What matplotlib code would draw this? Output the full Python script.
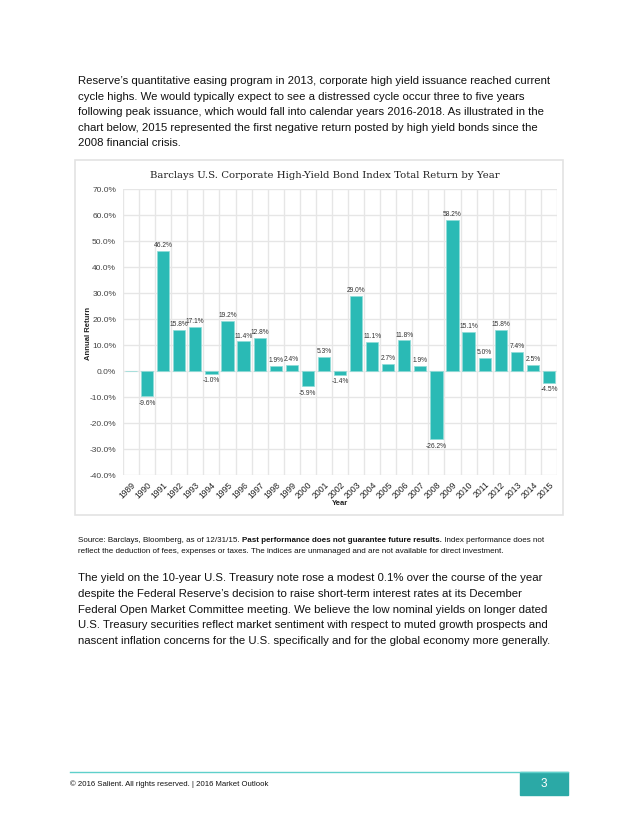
import numpy as np
import matplotlib.pyplot as plt
from matplotlib.patches import Rectangle

years = [str(y) for y in range(1989, 2016)]
returns = [np.nan, -9.6, 46.2, 15.8, 17.1, -1.0, 19.2, 11.4, 12.8, 1.9, 2.4,
           -5.9, 5.3, -1.4, 29.0, 11.1, 2.7, 11.8, 1.9, -26.2, 58.2, 15.1,
           5.0, 15.8, 7.4, 2.5, -4.5]
yticks = [-40, -30, -20, -10, 0, 10, 20, 30, 40, 50, 60, 70]

para1 = [
    "Reserve\u2019s quantitative easing program in 2013, corporate high yield issuance reached current",
    "cycle highs. We would typically expect to see a distressed cycle occur three to five years",
    "following peak issuance, which would fall into calendar years 2016-2018. As illustrated in the",
    "chart below, 2015 represented the first negative return posted by high yield bonds since the",
    "2008 financial crisis.",
]
para2 = [
    "The yield on the 10-year U.S. Treasury note rose a modest 0.1% over the course of the year",
    "despite the Federal Reserve\u2019s decision to raise short-term interest rates at its December",
    "Federal Open Market Committee meeting. We believe the low nominal yields on longer dated",
    "U.S. Treasury securities reflect market sentiment with respect to muted growth prospects and",
    "nascent inflation concerns for the U.S. specifically and for the global economy more generally.",
]
caption1 = ["Source: Barclays, Bloomberg, as of 12/31/15. ",
            "Past performance does not guarantee future results.",
            " Index performance does not"]
caption2 = "reflect the deduction of fees, expenses or taxes. The indices are unmanaged and are not available for direct investment."

plt.rcParams['font.family'] = ['Liberation Sans', 'DejaVu Sans']
W, H = 640, 828
fig = plt.figure(figsize=(6.4, 8.28), dpi=100)

def fx(x):
    return x / W

def fy(y):
    return 1 - y / H

teal = '#2abab5'
txt = '#111111'

for i, line in enumerate(para1):
    fig.text(fx(78), fy(81 + 15.6 * i), line, fontsize=8.2, color=txt, va='center')
for i, line in enumerate(para2):
    fig.text(fx(78), fy(578 + 15.8 * i), line, fontsize=8.2, color=txt, va='center')

# caption with bold middle part
renderer = fig.canvas.get_renderer()
x = fx(78)
for j, part in enumerate(caption1):
    t = fig.text(x, fy(541), part, fontsize=5.75, color=txt, va='center',
                 fontweight='bold' if j == 1 else 'normal')
    bb = t.get_window_extent(renderer)
    x += bb.width / W
fig.text(fx(78), fy(552), caption2, fontsize=5.75, color=txt, va='center')

# chart frame
fig.patches.append(Rectangle((fx(75), fy(516)), fx(563) - fx(75), fy(161) - fy(516),
                             transform=fig.transFigure, fill=False,
                             edgecolor='#e3e3e3', linewidth=1.2))

ax = fig.add_axes([fx(123), fy(476), fx(557) - fx(123), fy(190) - fy(476)])
xs = np.arange(len(years))
vals = np.array(returns, dtype=float)
ax.bar(xs, np.nan_to_num(vals), width=0.76, color=teal, edgecolor='#8fdcd8',
       linewidth=0.5, zorder=3)
for xi, v in zip(xs, vals):
    if np.isnan(v):
        continue
    if v >= 0:
        ax.annotate(f"{v:.1f}%", (xi, v), xytext=(0, 2), textcoords='offset points',
                    ha='center', va='bottom', fontsize=4.8, color='#333333')
    else:
        ax.annotate(f"{v:.1f}%", (xi, v), xytext=(0, -2), textcoords='offset points',
                    ha='center', va='top', fontsize=4.8, color='#333333')

ax.set_xlim(-0.5, len(years) - 0.5)
ax.set_ylim(-40, 70)
ax.set_yticks(yticks)
ax.set_yticklabels([f"{v:.1f}%" for v in yticks], fontsize=6, color='#444444')
ax.set_xticks(xs)
ax.set_xticklabels(years, rotation=45, ha='right', va='top', rotation_mode='anchor',
                   fontsize=6.2, color='#222222')
ax.set_xticks(np.arange(-0.5, len(years)), minor=True)
ax.tick_params(axis='both', which='both', length=0)
ax.tick_params(axis='x', pad=3)
ax.tick_params(axis='y', pad=5)
ax.grid(True, axis='y', which='major', color='#e6e6e6', linewidth=1, zorder=0)
ax.grid(True, axis='x', which='minor', color='#e6e6e6', linewidth=1, zorder=0)
for s in ax.spines.values():
    s.set_visible(False)

fig.text(fx(325), fy(176), "Barclays U.S. Corporate High-Yield Bond Index Total Return by Year",
         family='DejaVu Serif', fontsize=7.3, color='#222222', ha='center', va='center')
fig.text(fx(88), fy(333), "Annual Return", rotation=90, fontsize=5.5, fontweight='bold',
         color='#222222', ha='center', va='center')
fig.text(fx(340), fy(504), "Year", fontsize=5.5, fontweight='bold', color='#222222',
         ha='center', va='center')

# footer
fig.add_artist(plt.Line2D([fx(70), fx(568)], [fy(773), fy(773)], transform=fig.transFigure,
                          color='#5fd0cb', linewidth=1))
fig.patches.append(Rectangle((fx(520), fy(796)), fx(568) - fx(520), fy(773) - fy(796),
                             transform=fig.transFigure, color='#2ba9a6'))
fig.text(fx(544), fy(784.5), "3", fontsize=8.5, color='white', ha='center', va='center')
fig.text(fx(70), fy(784), "\u00a9 2016 Salient. All rights reserved. | 2016 Market Outlook",
         fontsize=5.6, color=txt, va='center')

fig.savefig('out.png', dpi=100, facecolor='white')
